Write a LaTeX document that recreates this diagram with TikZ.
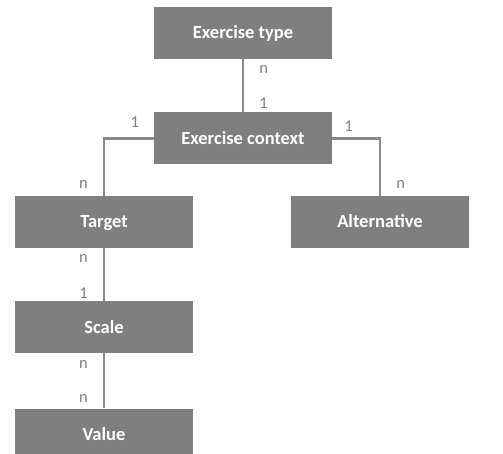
\documentclass[tikz,border=0pt]{standalone}
\usepackage{fontspec}
\setmainfont{Carlito}
\usetikzlibrary{positioning}
\definecolor{boxgray}{RGB}{127, 127, 127}
\definecolor{linegray}{RGB}{137, 137, 137}

\begin{document}
\begin{tikzpicture}[
    x=1pt, y=-1pt,
    entity/.style={fill=boxgray, text=white, minimum width=178pt, minimum height=52pt, inner sep=0pt, text height=12pt, text depth=0pt, font=\fontsize{18.5}{21}\selectfont\bfseries},
    link/.style={draw=linegray, line width=2.5pt},
    card/.style={text=boxgray, inner sep=0pt, font=\fontsize{16.5}{19}\selectfont}
]
\useasboundingbox (0,0) rectangle (503,454);

\node[entity] (type) at (243,33) {Exercise type};
\node[entity, below=53pt of type] (context) {Exercise context};
\node[entity, below=31pt of context, xshift=-139pt] (target) {Target};
\node[entity, below=31pt of context, xshift=137pt] (alternative) {Alternative};
\node[entity, below=53pt of target] (scale) {Scale};
\node[entity, below=55pt of scale] (value) {Value};

\draw[link] (type) -- node[card, pos=0.2, right=15pt] {n} node[card, pos=0.83, right=15pt] {1} (context);
\draw[link] (context.west) -| node[card, pos=0.19, above=10pt] {1} node[card, pos=0.9, left=15pt] {n} (target.north);
\draw[link] (context.east) -| node[card, pos=0.17, above=6pt] {1} node[card, pos=0.9, right=15pt] {n} (alternative.north);
\draw[link] (target) -- node[card, pos=0.2, left=15pt] {n} node[card, pos=0.86, left=15pt] {1} (scale);
\draw[link] (scale) -- node[card, pos=0.2, left=15pt] {n} node[card, pos=0.82, left=15pt] {n} (value);

\end{tikzpicture}
\end{document}
